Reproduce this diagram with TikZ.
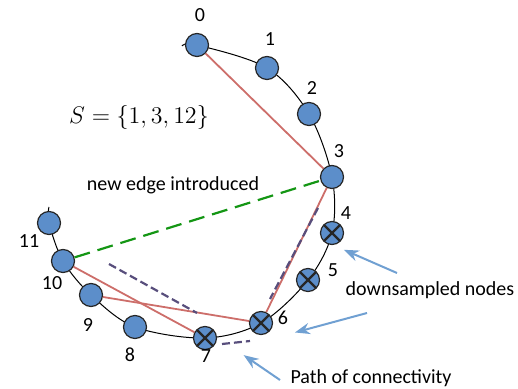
\documentclass[tikz,border=0pt]{standalone}
\usepackage{fontspec}
\setmainfont{Carlito}
\usepackage{amsmath}
\usetikzlibrary{arrows.meta, positioning}
\definecolor{nodeblue}{RGB}{92,142,202}
\definecolor{edgered}{RGB}{205,110,106}
\definecolor{newgreen}{RGB}{20,150,20}
\definecolor{pathpurple}{RGB}{88,78,124}
\definecolor{arrowblue}{RGB}{112,160,210}

\begin{document}
\begin{tikzpicture}[
    x=0.5pt, y=-0.5pt,
    >=Stealth,
    vnode/.style={circle, draw=black!85, fill=nodeblue, line width=0.6pt,
                  minimum size=11.5pt, inner sep=0pt},
    dnode/.style={vnode, path picture={
        \draw[line width=1.1pt] (path picture bounding box.north west) -- (path picture bounding box.south east);
        \draw[line width=1.1pt] (path picture bounding box.north east) -- (path picture bounding box.south west);}},
    lbl/.style={font=\fontsize{10}{12}\selectfont, inner sep=0pt},
    redge/.style={edgered, line width=0.9pt},
    gedge/.style={newgreen, dash pattern=on 8pt off 4pt, line width=1.1pt},
    pedge/.style={pathpurple, dash pattern=on 4pt off 2pt, line width=1.1pt},
    barr/.style={->, arrowblue, line width=1pt, shorten >=1pt},
]
\useasboundingbox (0,0) rectangle (518,389);
% === Ring positions ===
\coordinate (p0) at (197,45);
\coordinate (p1) at (267,68);
\coordinate (p2) at (309,114);
\coordinate (p3) at (332,177);
\coordinate (p4) at (332,233);
\coordinate (p5) at (308,280);
\coordinate (p6) at (261,323);
\coordinate (p7) at (205,338);
\coordinate (p8) at (135,327);
\coordinate (p9) at (91,295);
\coordinate (p10) at (63,261);
\coordinate (p11) at (49,223);
\draw[black, line width=0.5pt] plot[smooth, tension=0.55] coordinates
    {(182,46) (p0) (p1) (p2) (p3) (p4) (p5) (p6) (p7) (p8) (p9) (p10) (p11) (49,207)};
% === Nodes on the ring ===
\foreach \i in {0,1,2,3,8,9,10,11} {
    \node[vnode] (n\i) at (p\i) {};
}
\foreach \i in {4,5,6,7} {
    \node[dnode] (n\i) at (p\i) {};
}
% === Index labels ===
\node[lbl] (l0) at (200,15) {0};
\node[lbl] (l1) at (270,39) {1};
\node[lbl] (l2) at (312,88) {2};
\node[lbl] (l3) at (339,151) {3};
\node[lbl] (l4) at (346,213) {4};
\node[lbl] (l5) at (333,270) {5};
\node[lbl] (l6) at (283,318) {6};
\node[lbl] (l7) at (206,356) {7};
\node[lbl] (l8) at (130,355) {8};
\node[lbl] (l9) at (88,325) {9};
\node[lbl] (l10) at (52,283) {10};
\node[lbl] (l11) at (29,241) {11};
% === Skip edges ===
\draw[redge] (n0) -- (n3);
\draw[redge] (n3) -- (n6);
\draw[redge] (n9) -- (n6);
\draw[redge] (n10) -- (n7);
\draw[gedge] (n10) -- (n3);
% === Path of connectivity ===
\coordinate (q1a) at (109,264);
\coordinate (q1b) at (197,313);
\coordinate (q2a) at (318,208);
\coordinate (q2b) at (270,299);
\coordinate (q3a) at (222,344);
\coordinate (q3b) at (250,341);
\draw[pedge] (q1a) -- (q1b);
\draw[pedge] (q2a) -- (q2b);
\draw[pedge] (q3a) -- (q3b);
% === Annotations ===
\node[font=\fontsize{13}{15}\selectfont] (set) at (139,118) {$S=\{1,3,12\}$};
\node[lbl] (newedge) at (173,185) {new edge introduced};
\node[lbl] (down) at (430,290) {downsampled nodes};
\node[lbl] (conn) at (371,378) {Path of connectivity};
\coordinate (a1) at (397,273);
\coordinate (a2) at (367,313);
\coordinate (a3) at (280,380);
\coordinate (t1) at (342,249);
\coordinate (t2) at (293,333);
\coordinate (t3) at (242,354);
\draw[barr] (a1) -- (t1);
\draw[barr] (a2) -- (t2);
\draw[barr] (a3) -- (t3);
\end{tikzpicture}
\end{document}
